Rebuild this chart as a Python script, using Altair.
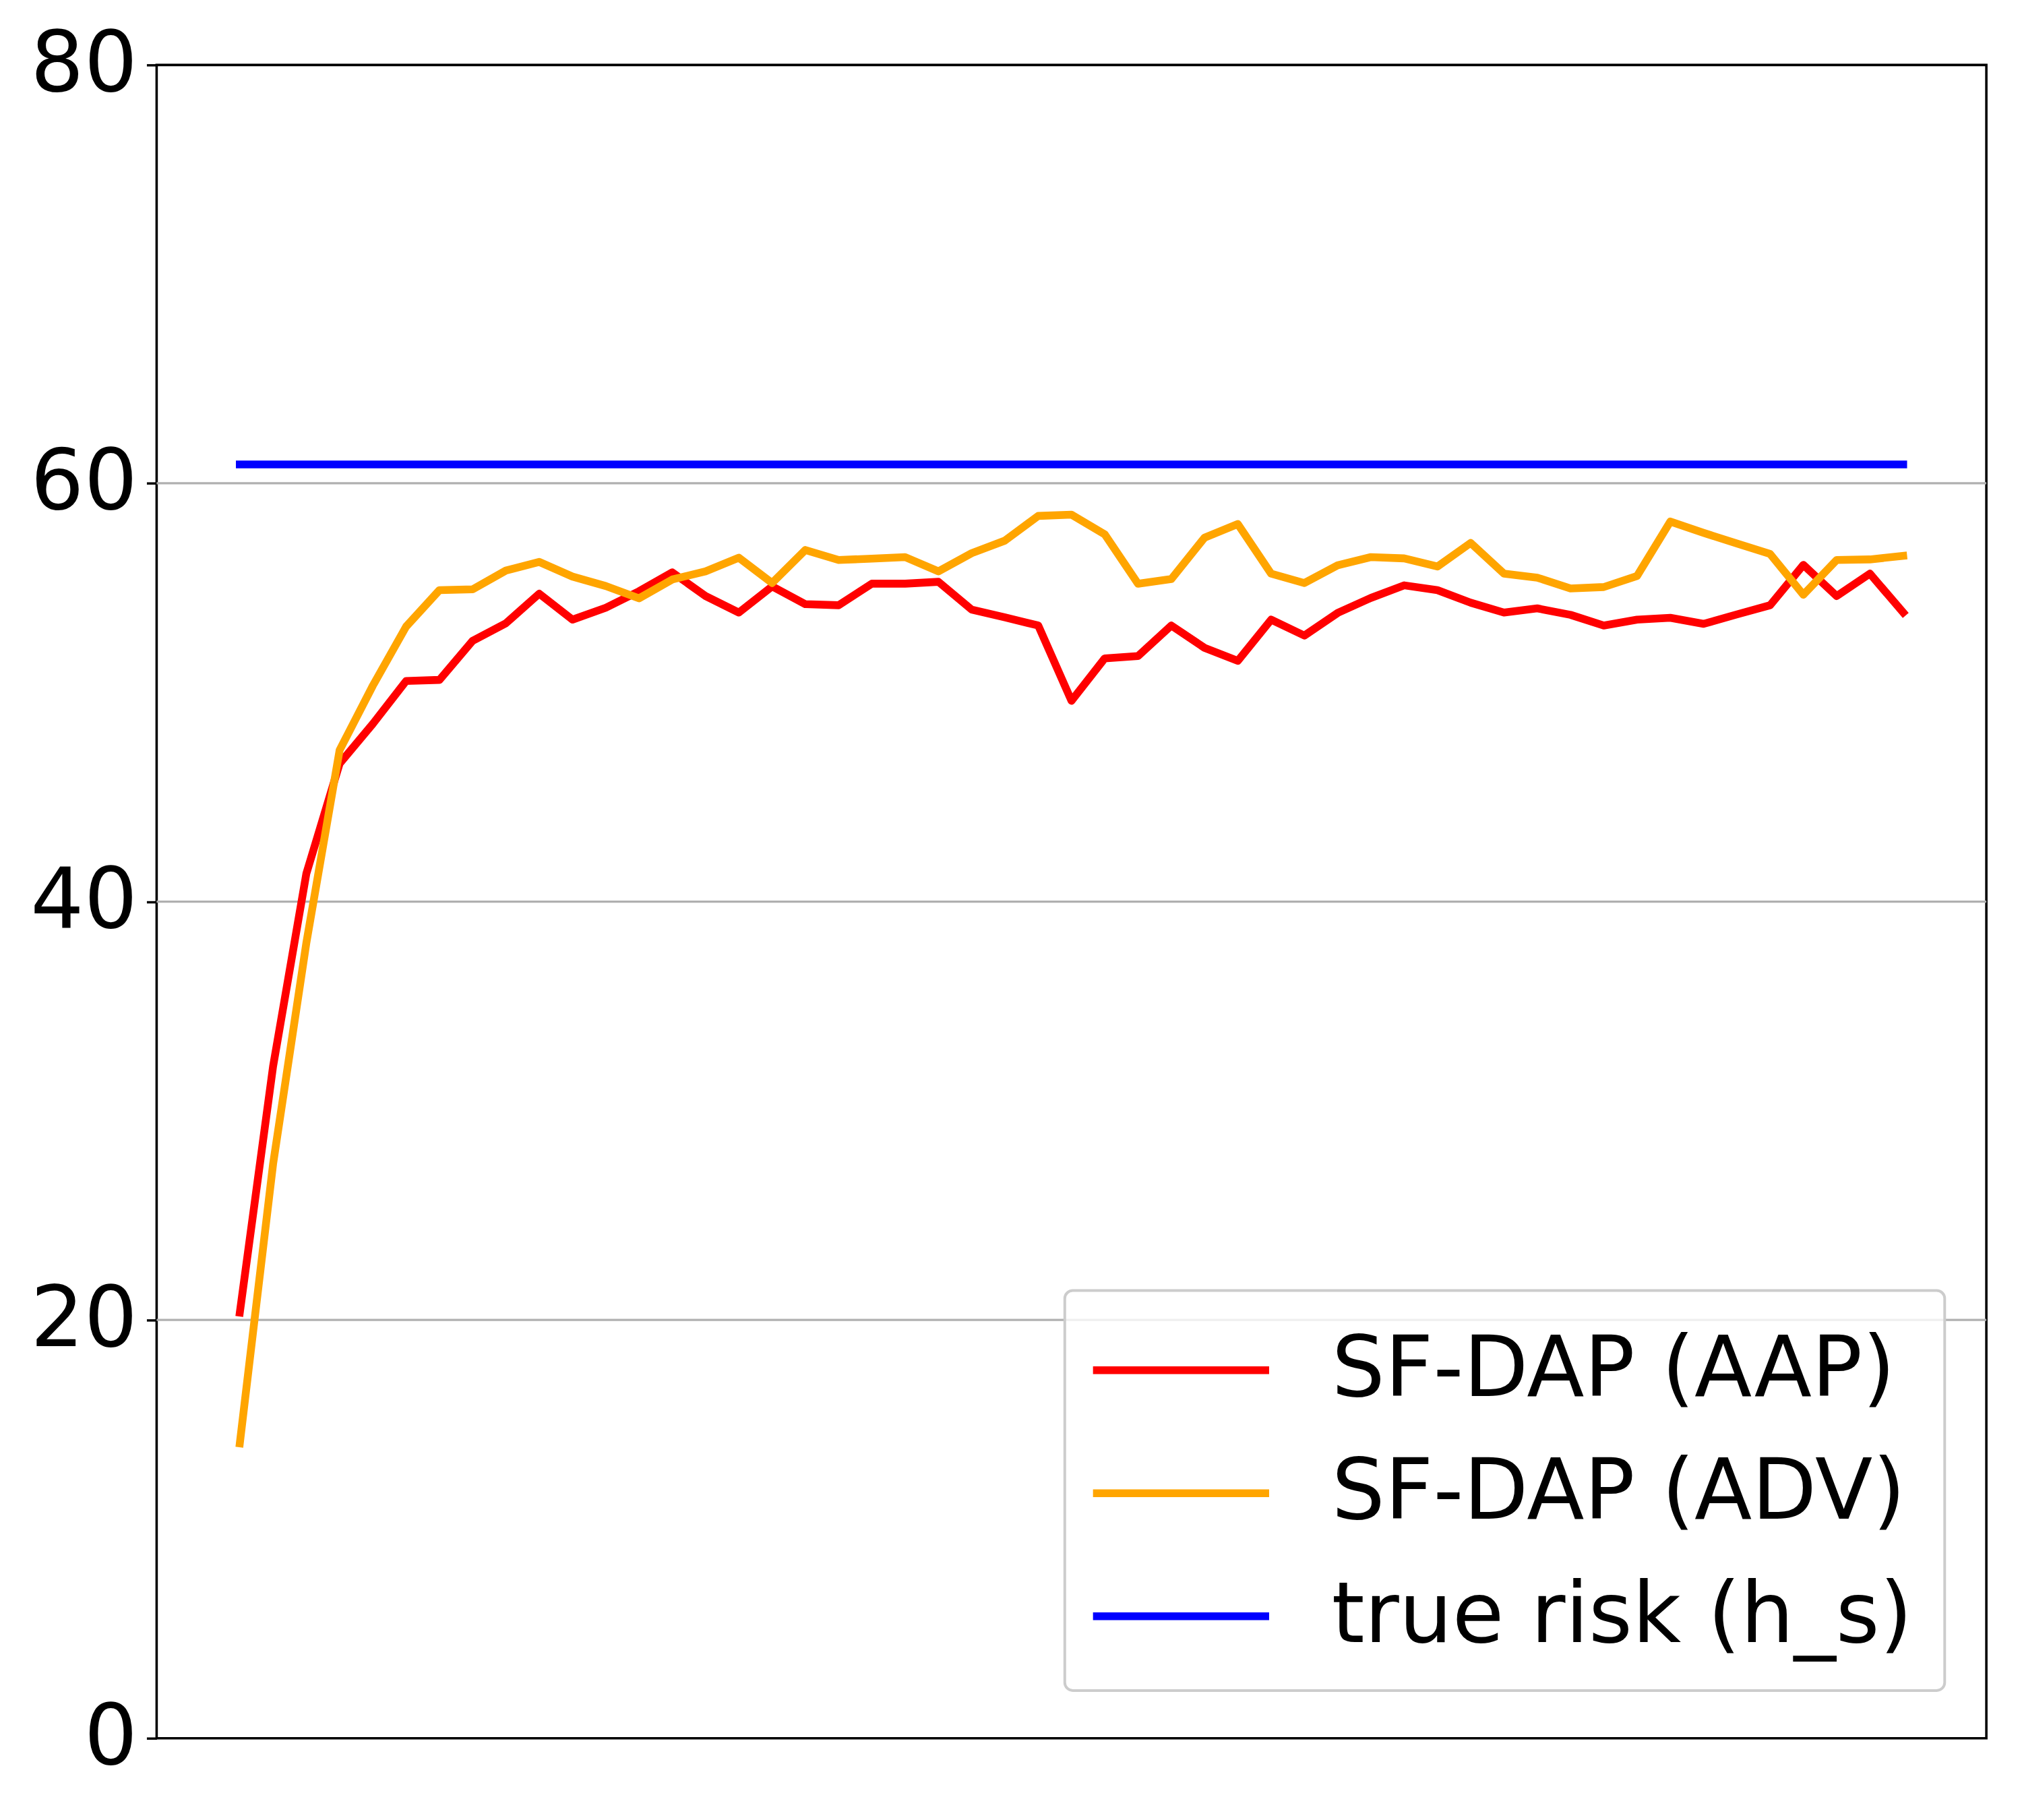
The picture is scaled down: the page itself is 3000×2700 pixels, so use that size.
import altair as alt
import pandas as pd

epochs = list(range(51))

aap = [20.35, 32.12, 41.34, 46.6, 48.5, 50.55, 50.6, 52.47, 53.31, 54.72,
       53.48, 54.05, 54.84, 55.74, 54.61, 53.82, 55.07, 54.22, 54.17, 55.2,
       55.2, 55.29, 53.96, 53.59, 53.2, 49.6, 51.63, 51.74, 53.2, 52.13,
       51.51, 53.48, 52.72, 53.8, 54.52, 55.12, 54.89, 54.29, 53.82, 54.02,
       53.71, 53.2, 53.48, 53.57, 53.28, 53.73, 54.17, 56.1, 54.61, 55.68,
       53.82]

adv = [14.1, 27.45, 38.02, 47.24, 50.33, 53.15, 54.89, 54.93, 55.83, 56.24,
       55.54, 55.09, 54.5, 55.4, 55.79, 56.44, 55.23, 56.81, 56.33, 56.4,
       56.47, 55.79, 56.66, 57.26, 58.44, 58.5, 57.56, 55.2, 55.42, 57.4,
       58.05, 55.68, 55.23, 56.08, 56.47, 56.41, 56.02, 57.15, 55.68, 55.49,
       54.97, 55.04, 55.57, 58.17, 57.63, 57.12, 56.62, 54.67, 56.33, 56.36,
       56.53]

true_risk_value = 60.9

series_names = ["SF-DAP (AAP)", "SF-DAP (ADV)", "true risk (h_s)"]
series_colors = ["#ff0000", "#ffa500", "#0000ff"]
y_ticks = [0, 20, 40, 60, 80]
grid_lines = [20, 40, 60]

rows = []
for e, v in zip(epochs, aap):
    rows.append({"epoch": e, "value": v, "series": series_names[0]})
for e, v in zip(epochs, adv):
    rows.append({"epoch": e, "value": v, "series": series_names[1]})
for e in epochs:
    rows.append({"epoch": e, "value": true_risk_value, "series": series_names[2]})
df = pd.DataFrame(rows)
grid_df = pd.DataFrame({"value": grid_lines})

FONT = "DejaVu Sans"
LINE_W = 11.6

y_scale = alt.Scale(domain=[0, 80], nice=False)

grid = alt.Chart(grid_df).mark_rule(color="#b0b0b0", strokeWidth=3.3).encode(
    y=alt.Y("value:Q", scale=y_scale)
)

lines = alt.Chart(df).mark_line(
    strokeWidth=LINE_W, strokeCap="square", strokeJoin="round"
).encode(
    x=alt.X("epoch:Q", scale=alt.Scale(domain=[-2.5, 52.5], nice=False, zero=False), axis=None),
    y=alt.Y("value:Q", scale=y_scale,
            axis=alt.Axis(values=y_ticks, title=None, labelFont=FONT, labelFontSize=125,
                          labelColor="black", tickSize=15, tickWidth=3.5, tickColor="black",
                          labelPadding=14, domain=False, grid=False,
                          labelBaseline="middle")),
    color=alt.Color("series:N",
                    scale=alt.Scale(domain=series_names, range=series_colors),
                    legend=alt.Legend(orient="none", legendX=1351, legendY=1823, title=None,
                                      symbolType="M-1,0H3", symbolSize=131 * 131,
                                      symbolStrokeWidth=LINE_W, symbolOffset=-11,
                                      labelFont=FONT,
                                      labelFontSize=125, labelColor="black", labelLimit=3000,
                                      labelOffset=218, rowPadding=48, padding=47,
                                      strokeColor="#cccccc", fillColor="rgba(255,255,255,0.8)",
                                      cornerRadius=12)),
    order=alt.Order("epoch:Q"),
)

chart = alt.layer(grid, lines).properties(
    width=2722,
    height=2489,
    autosize=alt.AutoSizeParams(type="none"),
    padding={"left": 225, "top": 85, "right": 45, "bottom": 118},
).configure_view(
    stroke="black", strokeWidth=3.6
).configure_legend(
    strokeWidth=4
)

chart.save("out.html", embed_options={"renderer": "svg", "actions": False})
